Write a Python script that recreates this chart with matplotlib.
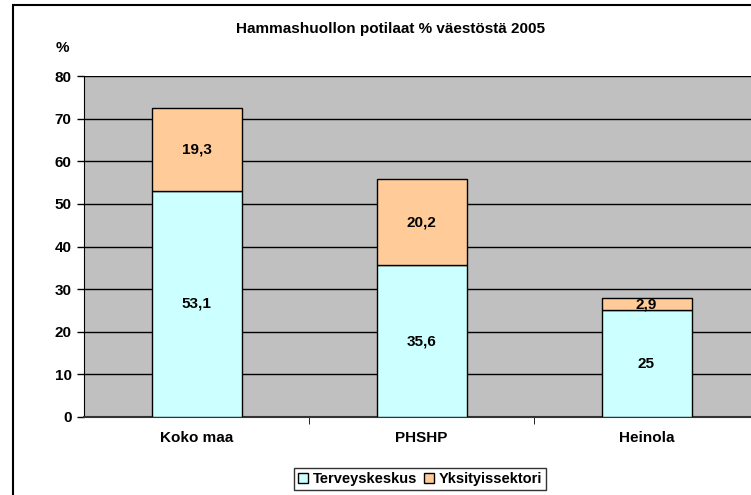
import matplotlib
matplotlib.use("Agg")
import matplotlib.pyplot as plt
from matplotlib.patches import Rectangle

categories = ["Koko maa", "PHSHP", "Heinola"]
terveyskeskus = [53.1, 35.6, 25]
yksityissektori = [19.3, 20.2, 2.9]
series_names = ["Terveyskeskus", "Yksityissektori"]
yticks = [0, 10, 20, 30, 40, 50, 60, 70, 80]

plt.rcParams["font.family"] = ["Liberation Sans", "DejaVu Sans"]
plt.rcParams["font.weight"] = "bold"

fig = plt.figure(figsize=(7.51, 4.95), dpi=100)
ax = fig.add_axes([84 / 751, 78 / 495, 675 / 751, 341 / 495])
ax.set_facecolor("#C0C0C0")

x = range(len(categories))
b1 = ax.bar(x, terveyskeskus, width=0.4, color="#CCFFFF", edgecolor="black",
            linewidth=1, label=series_names[0], zorder=3)
b2 = ax.bar(x, yksityissektori, width=0.4, bottom=terveyskeskus, color="#FFCC99",
            edgecolor="black", linewidth=1, label=series_names[1], zorder=3)

for i in x:
    t = terveyskeskus[i]
    y = yksityissektori[i]
    ax.text(i, t / 2, f"{t:g}".replace(".", ","), ha="center", va="center",
            fontsize=11, fontweight="bold", zorder=4)
    ax.text(i, t + y / 2, f"{y:g}".replace(".", ","), ha="center", va="center",
            fontsize=11, fontweight="bold", zorder=4)

ax.set_xlim(-0.5, 2.5)
ax.set_ylim(0, 80)
ax.set_yticks(yticks)
ax.set_yticklabels([str(v) for v in yticks], fontsize=11, fontweight="bold")
ax.set_xticks(list(x))
ax.set_xticklabels(categories, fontsize=11, fontweight="bold")
ax.tick_params(axis="x", length=0, pad=10)
ax.tick_params(axis="y", length=5, width=1, direction="out", pad=4)
ax.set_xticks([0.5, 1.5], minor=True)
ax.tick_params(axis="x", which="minor", length=5, direction="out")

ax.yaxis.grid(True, color="black", linewidth=1, zorder=0)
ax.set_axisbelow(True)
for side in ["top", "right"]:
    ax.spines[side].set_visible(False)
ax.spines["left"].set_color("black")
ax.spines["bottom"].set_color("#333333")
ax.spines["bottom"].set_linewidth(1.5)

fig.text(391 / 751, 1 - 29 / 495, "Hammashuollon potilaat % väestöstä 2005",
         ha="center", va="center", fontsize=11, fontweight="bold")
fig.text(62 / 751, 1 - 48 / 495, "%", ha="center", va="center",
         fontsize=11, fontweight="bold")

leg = fig.legend(handles=[b1, b2], loc="center", bbox_to_anchor=(420 / 751, 1 - 479 / 495),
                 ncol=2, frameon=True, fancybox=False, edgecolor="black",
                 fontsize=10.5, handlelength=0.7, handleheight=0.7,
                 handletextpad=0.3, columnspacing=0.5, borderpad=0.3)
leg.get_frame().set_linewidth(1)

fig.patches.append(Rectangle((13 / 751, -0.1), 1.2, 1 - 5 / 495 + 0.1,
                             transform=fig.transFigure, fill=False,
                             edgecolor="black", linewidth=1.5))

fig.savefig("out.png", dpi=100)
plt.close(fig)
